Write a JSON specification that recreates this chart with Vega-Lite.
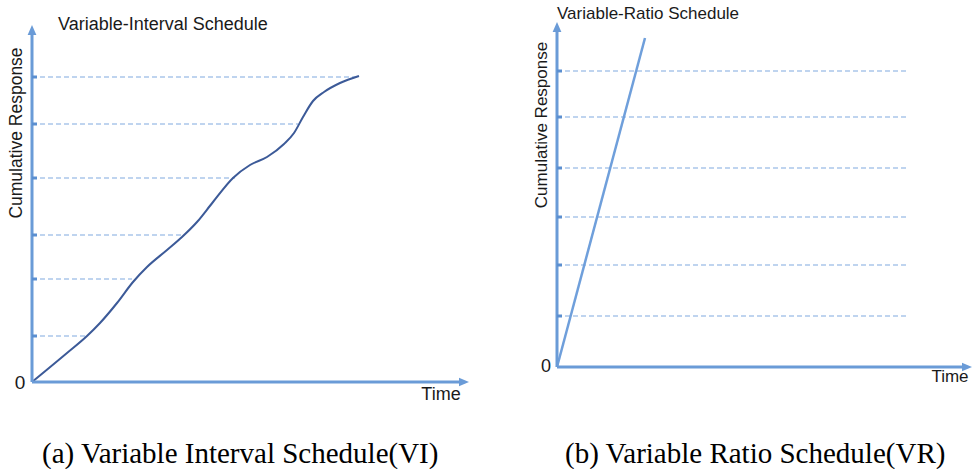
{
  "$schema": "https://vega.github.io/schema/vega-lite/v6.json",
  "background": "white",
  "padding": 0,
  "spacing": 0,
  "bounds": "flush",
  "config": {"view": {"stroke": null}},
  "hconcat": [
    {
      "width": 480,
      "height": 430,
      "title": {"text": "(a) Variable Interval Schedule(VI)", "orient": "bottom", "anchor": "start", "frame": "group", "dx": 42, "offset": 10, "font": "Liberation Serif", "fontSize": 29, "fontWeight": "normal", "color": "#000000"},
      "encoding": {
        "x": {"field": "x", "type": "quantitative", "scale": {"domain": [-32, 448], "nice": false, "zero": false}, "axis": null},
        "y": {"field": "y", "type": "quantitative", "scale": {"domain": [-48, 382], "nice": false, "zero": false}, "axis": null}
      },
      "layer": [
        {
          "data": {"values": [
            {"x": 0, "y": 46, "xe": 55}, {"x": 0, "y": 103, "xe": 100}, {"x": 0, "y": 147, "xe": 151},
            {"x": 0, "y": 204, "xe": 203}, {"x": 0, "y": 258, "xe": 266}, {"x": 0, "y": 305, "xe": 327}
          ]},
          "mark": {"type": "rule", "color": "#80a9df", "strokeWidth": 1.2, "strokeDash": [5, 3]},
          "encoding": {"x2": {"field": "xe"}}
        },
        {
          "data": {"values": [
            {"x": 0, "y": 0}, {"x": 35, "y": 29}, {"x": 55, "y": 46}, {"x": 68, "y": 59},
            {"x": 85, "y": 79}, {"x": 101, "y": 100}, {"x": 115, "y": 115}, {"x": 135, "y": 132},
            {"x": 150, "y": 145}, {"x": 165, "y": 160}, {"x": 181, "y": 180}, {"x": 201, "y": 204},
            {"x": 218, "y": 217}, {"x": 235, "y": 225}, {"x": 252, "y": 238}, {"x": 262, "y": 249},
            {"x": 271, "y": 265}, {"x": 281, "y": 281}, {"x": 292, "y": 290}, {"x": 308, "y": 299},
            {"x": 327, "y": 306}
          ]},
          "mark": {"type": "line", "color": "#3c5a98", "strokeWidth": 2, "interpolate": "monotone"},
          "encoding": {}
        },
        {
          "data": {"values": [
            {"x": 0, "y": 0, "xe": 0, "ye": 351}, {"x": 0, "y": 0, "xe": 431, "ye": 0}
          ]},
          "mark": {"type": "rule", "color": "#6a9bd7", "strokeWidth": 3},
          "encoding": {"x2": {"field": "xe"}, "y2": {"field": "ye"}}
        },
        {
          "data": {"values": [
            {"x": 0, "xe": 5, "y": 46}, {"x": 0, "xe": 5, "y": 103}, {"x": 0, "xe": 5, "y": 147},
            {"x": 0, "xe": 5, "y": 204}, {"x": 0, "xe": 5, "y": 258}, {"x": 0, "xe": 5, "y": 305}
          ]},
          "mark": {"type": "rule", "color": "#5b8fd0", "strokeWidth": 3},
          "encoding": {"x2": {"field": "xe"}}
        },
        {
          "data": {"values": [{"x": 0, "y": 350.75}]},
          "mark": {"type": "point", "shape": "M0,-1L0.7,0.6L-0.7,0.6Z", "filled": true, "size": 156, "color": "#6a9bd7", "opacity": 1, "strokeWidth": 0}
        },
        {
          "data": {"values": [{"x": 430.75, "y": 0}]},
          "mark": {"type": "point", "shape": "M1,0L-0.6,0.7L-0.6,-0.7Z", "filled": true, "size": 156, "color": "#6a9bd7", "opacity": 1, "strokeWidth": 0}
        },
        {
          "data": {"values": [{"x": 26, "y": 357}]},
          "mark": {"type": "text", "text": "Variable-Interval Schedule", "align": "left", "baseline": "middle", "font": "Liberation Sans", "fontSize": 18, "color": "#1a1a1a"}
        },
        {
          "data": {"values": [{"x": -15, "y": 249}]},
          "mark": {"type": "text", "text": "Cumulative Response", "align": "center", "baseline": "middle", "angle": 270, "font": "Liberation Sans", "fontSize": 17.5, "color": "#1a1a1a"}
        },
        {
          "data": {"values": [{"x": 409, "y": -13}]},
          "mark": {"type": "text", "text": "Time", "align": "center", "baseline": "middle", "font": "Liberation Sans", "fontSize": 18, "color": "#1a1a1a"}
        },
        {
          "data": {"values": [{"x": -12, "y": -1}]},
          "mark": {"type": "text", "text": "0", "align": "center", "baseline": "middle", "font": "Liberation Sans", "fontSize": 19, "color": "#1a1a1a"}
        }
      ]
    },
    {
      "width": 492,
      "height": 430,
      "title": {"text": "(b) Variable Ratio Schedule(VR)", "orient": "bottom", "anchor": "start", "frame": "group", "dx": 85, "offset": 10, "font": "Liberation Serif", "fontSize": 29, "fontWeight": "normal", "color": "#000000"},
      "encoding": {
        "x": {"field": "x", "type": "quantitative", "scale": {"domain": [-77, 415], "nice": false, "zero": false}, "axis": null},
        "y": {"field": "y", "type": "quantitative", "scale": {"domain": [-63, 367], "nice": false, "zero": false}, "axis": null}
      },
      "layer": [
        {
          "data": {"values": [
            {"x": 0, "xe": 350, "y": 51}, {"x": 0, "xe": 350, "y": 102}, {"x": 0, "xe": 350, "y": 150},
            {"x": 0, "xe": 350, "y": 199}, {"x": 0, "xe": 350, "y": 250}, {"x": 0, "xe": 350, "y": 296}
          ]},
          "mark": {"type": "rule", "color": "#80a9df", "strokeWidth": 1.2, "strokeDash": [5, 3]},
          "encoding": {"x2": {"field": "xe"}}
        },
        {
          "data": {"values": [{"x": 0, "y": 0}, {"x": 88, "y": 329}]},
          "mark": {"type": "line", "color": "#6f9fdb", "strokeWidth": 2.5},
          "encoding": {}
        },
        {
          "data": {"values": [
            {"x": 0, "y": 0, "xe": 0, "ye": 339}, {"x": 0, "y": 0, "xe": 409, "ye": 0}
          ]},
          "mark": {"type": "rule", "color": "#6a9bd7", "strokeWidth": 3},
          "encoding": {"x2": {"field": "xe"}, "y2": {"field": "ye"}}
        },
        {
          "data": {"values": [
            {"x": 0, "xe": 5, "y": 51}, {"x": 0, "xe": 5, "y": 102}, {"x": 0, "xe": 5, "y": 150},
            {"x": 0, "xe": 5, "y": 199}, {"x": 0, "xe": 5, "y": 250}, {"x": 0, "xe": 5, "y": 296}
          ]},
          "mark": {"type": "rule", "color": "#5b8fd0", "strokeWidth": 3},
          "encoding": {"x2": {"field": "xe"}}
        },
        {
          "data": {"values": [{"x": 0, "y": 338.75}]},
          "mark": {"type": "point", "shape": "M0,-1L0.7,0.6L-0.7,0.6Z", "filled": true, "size": 156, "color": "#6a9bd7", "opacity": 1, "strokeWidth": 0}
        },
        {
          "data": {"values": [{"x": 408.75, "y": 0}]},
          "mark": {"type": "point", "shape": "M1,0L-0.6,0.7L-0.6,-0.7Z", "filled": true, "size": 156, "color": "#6a9bd7", "opacity": 1, "strokeWidth": 0}
        },
        {
          "data": {"values": [{"x": 0, "y": 353}]},
          "mark": {"type": "text", "text": "Variable-Ratio Schedule", "align": "left", "baseline": "middle", "font": "Liberation Sans", "fontSize": 17, "color": "#1a1a1a"}
        },
        {
          "data": {"values": [{"x": -15, "y": 242}]},
          "mark": {"type": "text", "text": "Cumulative Response", "align": "center", "baseline": "middle", "angle": 270, "font": "Liberation Sans", "fontSize": 17, "color": "#1a1a1a"}
        },
        {
          "data": {"values": [{"x": 393, "y": -10}]},
          "mark": {"type": "text", "text": "Time", "align": "center", "baseline": "middle", "font": "Liberation Sans", "fontSize": 17, "color": "#1a1a1a"}
        },
        {
          "data": {"values": [{"x": -11, "y": 0}]},
          "mark": {"type": "text", "text": "0", "align": "center", "baseline": "middle", "font": "Liberation Sans", "fontSize": 18, "color": "#1a1a1a"}
        }
      ]
    }
  ]
}
